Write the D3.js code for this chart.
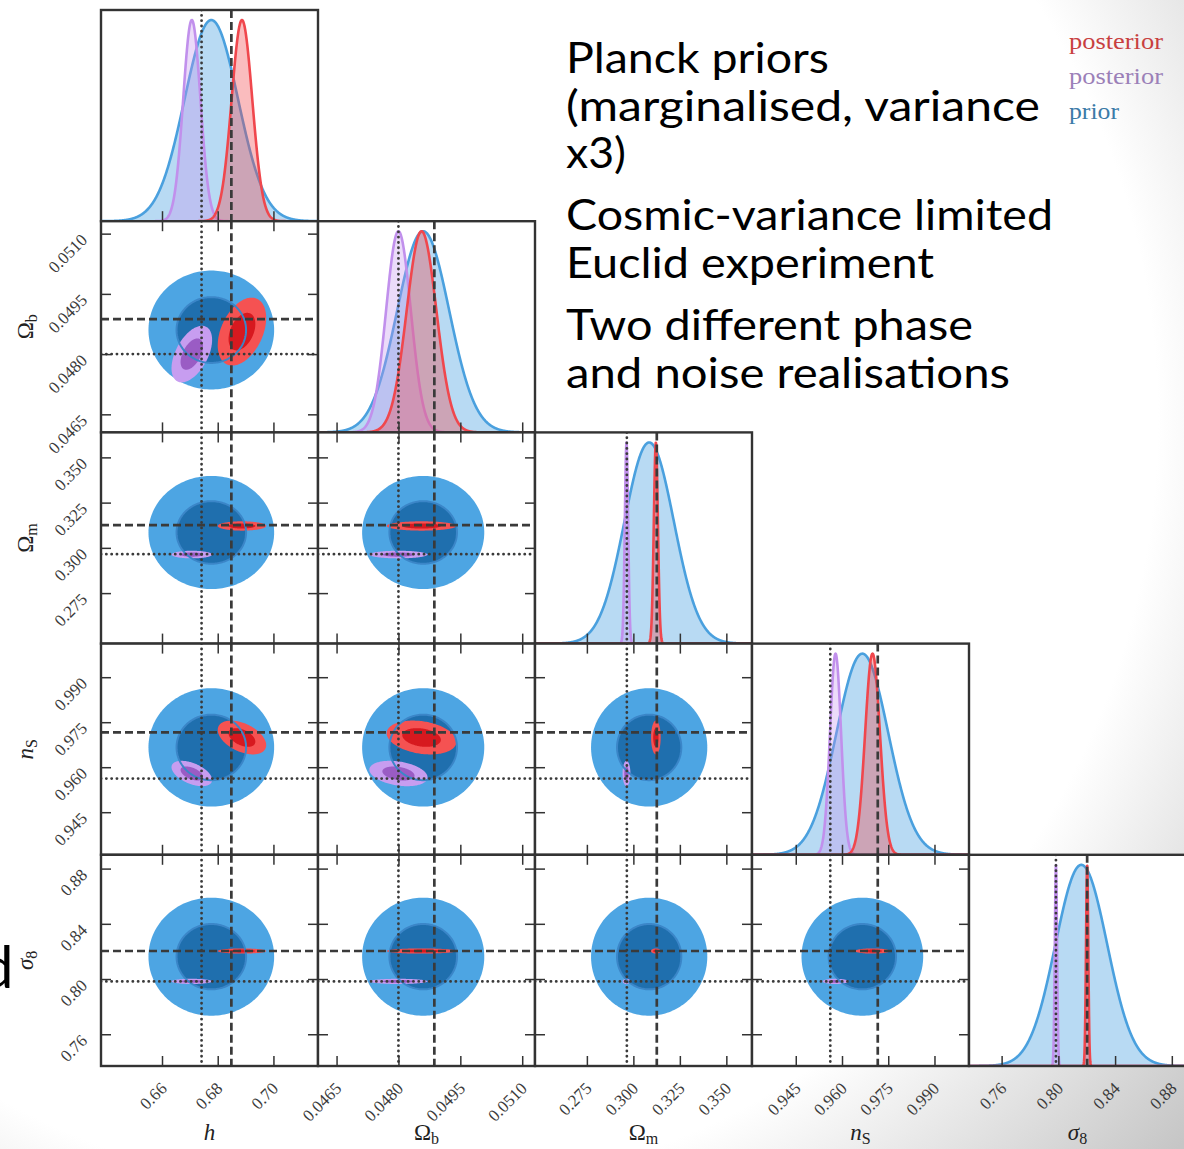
<!DOCTYPE html>
<html>
<head>
<meta charset="utf-8">
<script src="https://cdn.jsdelivr.net/npm/d3@7"></script>
<style>
  body { margin: 0; background: #fff; }
  svg { display: block; }
</style>
</head>
<body>
<svg id="chart" width="1184" height="1149"></svg>
<script>
// parameters, in plot order
const paramNames = ["h", "Ωb", "Ωm", "nS", "σ8"];
const labelMain = ["h", "Ω", "Ω", "n", "σ"];
const labelSub = ["", "b", "m", "S", "8"];
const labelItalic = [true, false, false, true, true];

const domains = [
  [0.6381, 0.7160],
  [0.04605, 0.05131],
  [0.2471, 0.3638],
  [0.9308, 1.0012],
  [0.7370, 0.8900]
];
const tickValues = [
  [0.66, 0.68, 0.70],
  [0.0465, 0.0480, 0.0495, 0.0510],
  [0.275, 0.300, 0.325, 0.350],
  [0.945, 0.960, 0.975, 0.990],
  [0.76, 0.80, 0.84, 0.88]
];
const tickLabels = [
  ["0.66", "0.68", "0.70"],
  ["0.0465", "0.0480", "0.0495", "0.0510"],
  ["0.275", "0.300", "0.325", "0.350"],
  ["0.945", "0.960", "0.975", "0.990"],
  ["0.76", "0.80", "0.84", "0.88"]
];

// prior (blue)
const priorMean  = [0.6777, 0.04860, 0.3085, 0.9666, 0.8162];
const priorSigma = [0.0096, 0.00063, 0.0133, 0.0084, 0.0182];
// posterior, first realisation (red)
const redMean  = [0.6887, 0.04856, 0.3121, 0.9699, 0.8203];
const redSigma = [0.0037, 0.00036, 0.0011, 0.0024, 0.0008];
const redCorr = [
  [1, 0.4, 0, -0.45, 0],
  [0.4, 1, 0, -0.25, 0],
  [0, 0, 1, 0, 0],
  [-0.45, -0.25, 0, 1, 0],
  [0, 0, 0, 0, 1]
];
// posterior, second realisation (purple)
const purpleMean  = [0.6707, 0.04800, 0.2963, 0.9579, 0.7983];
const purpleSigma = [0.0031, 0.00030, 0.0009, 0.0018, 0.0008];
const purpleCorr = [
  [1, 0.5, 0, -0.5, 0],
  [0.5, 1, 0, -0.3, 0],
  [0, 0, 1, 0, 0],
  [-0.5, -0.3, 0, 1, 0],
  [0, 0, 0, 0, 1]
];
// true values of the two realisations
const truthDashed = [0.6849, 0.04887, 0.3126, 0.9716, 0.8203];
const truthDotted = [0.6742, 0.04800, 0.2965, 0.9562, 0.7983];
// contour levels (in sigma)
const contourLevels = [2.35, 1.3];

const legendLabels = ["posterior", "posterior", "prior"];
const textLines = [
  "Planck priors",
  "(marginalised, variance",
  "x3)",
  "Cosmic-variance limited",
  "Euclid experiment",
  "Two different phase",
  "and noise realisations"
];

const svg = d3.select("#chart");
const n = paramNames.length;
const x0 = 101, y0 = 10, W = 217, H = 211.2;
const ink = "#333";

// slide background
const defs = svg.append("defs");
const rg = defs.append("radialGradient").attr("id", "bg")
  .attr("gradientUnits", "userSpaceOnUse")
  .attr("cx", 380).attr("cy", 420).attr("r", 1080);
rg.append("stop").attr("offset", 0.72).attr("stop-color", "#fff");
rg.append("stop").attr("offset", 1).attr("stop-color", "#c6c6c6");
svg.append("rect").attr("width", 1184).attr("height", 1149).attr("fill", "url(#bg)");

const xs = domains.map((d, i) => d3.scaleLinear().domain(d).range([x0 + i * W, x0 + (i + 1) * W]));
const ys = domains.map((d, i) => d3.scaleLinear().domain(d).range([y0 + (i + 1) * H, y0 + i * H]));

const colors = {
  prior: { line: "#4aa0de", fill: "rgba(77,163,224,0.40)", outer: "#4da5e3", inner: "#1f6fae", ring: "#3b86c8" },
  red: { line: "#f0474d", fill: "rgba(240,70,75,0.36)", outer: "#f55252", inner: "#d7191f" },
  purple: { line: "#c190ec", fill: "rgba(196,150,236,0.34)", outer: "#c79df0", inner: "#9a5cc4" }
};

function ellipsePath(xsc, ysc, mx, my, sx, sy, rho, k) {
  const pts = d3.range(0, 361, 2).map(a => {
    const t = a * Math.PI / 180;
    const u = Math.cos(t), v = Math.sin(t);
    return [xsc(mx + k * sx * u), ysc(my + k * sy * (rho * u + Math.sqrt(1 - rho * rho) * v))];
  });
  return d3.line()(pts) + "Z";
}

function dashLine(g, x1, y1, x2, y2, style) {
  g.append("line").attr("x1", x1).attr("y1", y1).attr("x2", x2).attr("y2", y2)
    .attr("stroke", "#3a3a3a")
    .attr("stroke-width", style === "dash" ? 2.7 : 2.8)
    .attr("stroke-linecap", style === "dash" ? "butt" : "round")
    .attr("stroke-dasharray", style === "dash" ? "8,4" : "0.1,5.2");
}

for (let i = 0; i < n; i++) {
  for (let j = 0; j <= i; j++) {
    const xsc = xs[j];
    const px = x0 + j * W, py = y0 + i * H;
    const g = svg.append("g");
    const cid = "clip" + i + j;
    defs.append("clipPath").attr("id", cid).append("rect")
      .attr("x", px).attr("y", py).attr("width", W).attr("height", H);
    g.append("rect").attr("x", px).attr("y", py).attr("width", W).attr("height", H).attr("fill", "#fff");
    const body = g.append("g").attr("clip-path", `url(#${cid})`);

    if (i === j) {
      // 1D marginals
      const yd = d3.scaleLinear().domain([0, 1.05]).range([py + H, py]);
      const samples = d3.range(px - 1, px + W + 1.01, 0.25);
      const curve = (m, s) => samples.map(p => [p, yd(Math.exp(-0.5 * Math.pow((xsc.invert(p) - m) / s, 2)))]);
      const area = d3.area().x(d => d[0]).y0(py + H).y1(d => d[1]);
      const line = d3.line();
      [["prior", priorMean, priorSigma], ["purple", purpleMean, purpleSigma], ["red", redMean, redSigma]]
        .forEach(([key, m, s]) => {
          const c = curve(m[j], s[j]);
          body.append("path").attr("d", area(c)).attr("fill", colors[key].fill);
          body.append("path").attr("d", line(c)).attr("fill", "none")
            .attr("stroke", colors[key].line).attr("stroke-width", 2.6).attr("stroke-linejoin", "round");
        });
      dashLine(body, xsc(truthDotted[j]), py, xsc(truthDotted[j]), py + H, "dot");
      dashLine(body, xsc(truthDashed[j]), py, xsc(truthDashed[j]), py + H, "dash");
      g.append("g").attr("transform", `translate(0,${py + H})`)
        .call(d3.axisBottom(xsc).tickValues(tickValues[j]).tickSize(-10).tickSizeOuter(0).tickFormat(""))
        .call(a => a.select(".domain").remove());
    } else {
      const ysc = ys[i];
      // prior circles
      contourLevels.forEach((k, li) => {
        body.append("path")
          .attr("d", ellipsePath(xsc, ysc, priorMean[j], priorMean[i], priorSigma[j], priorSigma[i], 0, k))
          .attr("fill", li === 0 ? colors.prior.outer : colors.prior.inner);
      });
      [["purple", purpleMean, purpleSigma, purpleCorr], ["red", redMean, redSigma, redCorr]]
        .forEach(([key, m, s, c]) => {
          contourLevels.forEach((k, li) => {
            body.append("path")
              .attr("d", ellipsePath(xsc, ysc, m[j], m[i], s[j], s[i], c[i][j], k))
              .attr("fill", li === 0 ? colors[key].outer : colors[key].inner);
          });
        });
      body.append("path")
        .attr("d", ellipsePath(xsc, ysc, priorMean[j], priorMean[i], priorSigma[j], priorSigma[i], 0, contourLevels[1]))
        .attr("fill", "none").attr("stroke", colors.prior.ring).attr("stroke-width", 2);
      dashLine(body, xsc(truthDotted[j]), py, xsc(truthDotted[j]), py + H, "dot");
      dashLine(body, px, ysc(truthDotted[i]), px + W, ysc(truthDotted[i]), "dot");
      dashLine(body, xsc(truthDashed[j]), py, xsc(truthDashed[j]), py + H, "dash");
      dashLine(body, px, ysc(truthDashed[i]), px + W, ysc(truthDashed[i]), "dash");

      const inner = (ax, tv) => ax.tickValues(tv).tickSize(-10).tickSizeOuter(0).tickFormat("");
      g.append("g").attr("transform", `translate(0,${py + H})`).call(inner(d3.axisBottom(xsc), tickValues[j]));
      g.append("g").attr("transform", `translate(0,${py})`).call(inner(d3.axisTop(xsc), tickValues[j]));
      g.append("g").attr("transform", `translate(${px},0)`).call(inner(d3.axisLeft(ysc), tickValues[i]));
      g.append("g").attr("transform", `translate(${px + W},0)`).call(inner(d3.axisRight(ysc), tickValues[i]));
      g.selectAll(".domain").remove();
    }
    g.selectAll(".tick line").attr("stroke", ink).attr("stroke-width", 1.5);
    g.append("rect").attr("x", px).attr("y", py).attr("width", W).attr("height", H)
      .attr("fill", "none").attr("stroke", ink).attr("stroke-width", 2.4);
  }
}

// tick labels
const tickFont = "'Liberation Serif', 'DejaVu Serif', serif";
const yBottom = y0 + n * H;
for (let j = 0; j < n; j++) {
  svg.append("g").selectAll("text").data(tickValues[j]).join("text")
    .attr("transform", (d, k) => `translate(${xs[j](d) + 2},${yBottom + 19.6}) rotate(-45)`)
    .attr("text-anchor", "end").attr("dominant-baseline", "central")
    .attr("font-family", tickFont).attr("font-size", 17).attr("fill", "#3a3a3a")
    .text((d, k) => tickLabels[j][k]);
}
for (let i = 1; i < n; i++) {
  svg.append("g").selectAll("text").data(tickValues[i]).join("text")
    .attr("transform", d => `translate(${x0 - 16.6},${ys[i](d) + 3.5}) rotate(-45)`)
    .attr("text-anchor", "end").attr("dominant-baseline", "central")
    .attr("font-family", tickFont).attr("font-size", 17).attr("fill", "#3a3a3a")
    .text((d, k) => tickLabels[i][k]);
}

// axis labels
function axisLabel(sel, idx) {
  sel.attr("font-family", tickFont).attr("font-size", 23).attr("fill", "#222");
  sel.append("tspan").attr("font-style", labelItalic[idx] ? "italic" : "normal").text(labelMain[idx]);
  if (labelSub[idx]) sel.append("tspan").attr("font-size", 16).attr("dy", 4).text(labelSub[idx]);
}
for (let j = 0; j < n; j++) {
  svg.append("text").attr("x", x0 + (j + 0.5) * W).attr("y", 1140).attr("text-anchor", "middle")
    .call(axisLabel, j);
}
for (let i = 1; i < n; i++) {
  svg.append("text")
    .attr("transform", `translate(33,${y0 + (i + 0.5) * H}) rotate(-90)`)
    .attr("text-anchor", "middle").call(axisLabel, i);
}

// legend
const legendColors = ["#c8403f", "#9b80b8", "#3b7ba8"];
const legendWidths = [94, 94, 50];
svg.append("g").selectAll("text").data(legendLabels).join("text")
  .attr("x", 1069).attr("y", (d, k) => 49 + k * 35)
  .attr("font-family", tickFont).attr("font-size", 23)
  .attr("textLength", (d, k) => legendWidths[k]).attr("lengthAdjust", "spacingAndGlyphs")
  .attr("fill", (d, k) => legendColors[k]).text(d => d);

// slide text
const lineY = [73, 121, 168, 230, 278, 340, 388];
const lineW = [263, 474, 60, 487, 368, 407, 444];
svg.append("g").selectAll("text").data(textLines).join("text")
  .attr("x", 566).attr("y", (d, k) => lineY[k])
  .attr("font-family", "Lato, 'Open Sans', sans-serif").attr("font-size", 42).attr("fill", "#000")
  .attr("textLength", (d, k) => lineW[k]).attr("lengthAdjust", "spacingAndGlyphs")
  .text(d => d);

// clipped letter from the slide behind
svg.append("text").attr("x", -19).attr("y", 988)
  .attr("font-family", "Lato, 'Open Sans', sans-serif").attr("font-size", 58).attr("fill", "#000")
  .text("d");
</script>
</body>
</html>
